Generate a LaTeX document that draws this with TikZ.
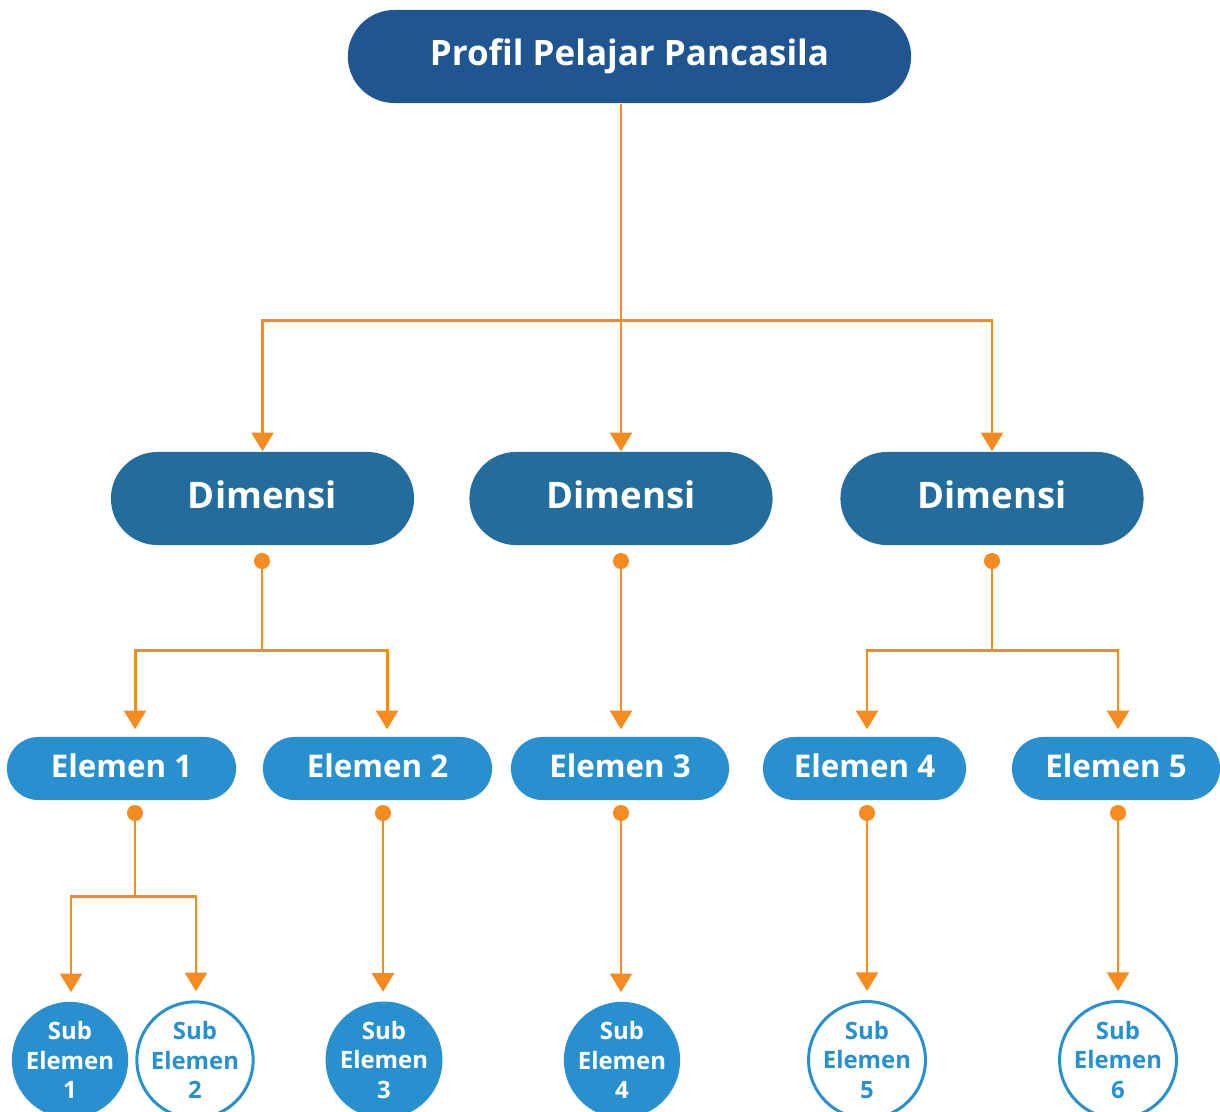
\documentclass[tikz,border=0pt]{standalone}
\usepackage{fontspec}
\setmainfont{Open Sans}
\usetikzlibrary{arrows.meta}
\definecolor{topblue}{HTML}{1F5591}
\definecolor{dimblue}{HTML}{236C9E}
\definecolor{elblue}{HTML}{2990CF}
\definecolor{lineorange}{HTML}{F68B1F}
\tikzset{
  pill/.style={rounded corners=#1, text=white, font=\bfseries, inner sep=0pt},
  link/.style={lineorange, line width=0.85pt},
  arr/.style={link, -{Triangle[width=6.2pt,length=5.3pt]}},
  dot/.style={fill=lineorange},
  subfull/.style={circle, fill=elblue, text=white, minimum size=1.16cm, inner sep=0pt,
    align=center, font=\fontsize{6.8}{8.3}\selectfont\bfseries},
  subopen/.style={subfull, fill=white, draw=elblue, line width=0.85pt, text=elblue}
}
\begin{document}
\begin{tikzpicture}[x=0.01cm,y=-0.01cm]
    \useasboundingbox (0,0) rectangle (1220,1111);
    %top box
    \node [pill=0.465cm, fill=topblue, minimum width=5.63cm, minimum height=0.93cm,
      font=\fontsize{9.95}{12}\selectfont\bfseries] (top) at (629.5,56.5) {Profil Pelajar Pancasila};
    %dimensi
    \node [pill=0.465cm, fill=dimblue, minimum width=3.03cm, minimum height=0.93cm,
      text height=5.6pt, text depth=0pt,
      font=\fontsize{10.4}{12}\selectfont\bfseries] (dim1) at (262.5,498.5) {Dimensi};
    \node [pill=0.465cm, fill=dimblue, minimum width=3.03cm, minimum height=0.93cm,
      text height=5.6pt, text depth=0pt,
      font=\fontsize{10.4}{12}\selectfont\bfseries] (dim2) at (621,498.5) {Dimensi};
    \node [pill=0.465cm, fill=dimblue, minimum width=3.03cm, minimum height=0.93cm,
      text height=5.6pt, text depth=0pt,
      font=\fontsize{10.4}{12}\selectfont\bfseries] (dim3) at (992,498.5) {Dimensi};
    %elemen
    \foreach \n/\x/\w in {1/121.5/2.29, 2/377.5/2.29, 3/620/2.18, 4/864.5/2.03, 5/1116/2.08}
      \node [pill=0.315cm, fill=elblue, minimum width=\w cm, minimum height=0.63cm,
        text height=5.3pt, text depth=0pt,
        font=\fontsize{8.9}{12}\selectfont\bfseries] (el\n) at (\x,768.5) {Elemen \n};
    %sub elemen
    \node [subfull] (sub1) at (70,1060) {Sub\\Elemen\\1};
    \node [subopen] (sub2) at (195,1060) {Sub\\Elemen\\2};
    \node [subfull] (sub3) at (384,1060) {Sub\\Elemen\\3};
    \node [subfull] (sub4) at (622,1060) {Sub\\Elemen\\4};
    \node [subopen] (sub5) at (867,1060) {Sub\\Elemen\\5};
    \node [subopen] (sub6) at (1118,1060) {Sub\\Elemen\\6};

    %branch points
    \coordinate (hub) at (621,320);
    \coordinate (d1) at (262,561);
    \coordinate (d2) at (621,561);
    \coordinate (d3) at (992,561);
    \coordinate (b1) at (262,650);
    \coordinate (b3) at (992,650);
    \coordinate (e1) at (135,813);
    \coordinate (e2) at (383,813);
    \coordinate (e3) at (621,813);
    \coordinate (e4) at (867,813);
    \coordinate (e5) at (1118,813);
    \coordinate (f1) at (135,896);

    %top to dimensi
    \draw [link] (top.south -| hub) -- (hub);
    \draw [arr] (hub) -| (dim1.north);
    \draw [arr] (hub) -- (dim2.north);
    \draw [arr] (hub) -| (dim3.north);
    %dimensi to elemen
    \foreach \c in {d1,d2,d3,e1,e2,e3,e4,e5}
      \fill [dot] (\c) circle (0.08cm);
    \draw [link] (d1) -- (b1);
    \draw [arr, shorten >=0.07cm] (b1) -| ([xshift=0.135cm]el1.north);
    \draw [arr, shorten >=0.07cm] (b1) -| ([xshift=0.095cm]el2.north);
    \draw [arr, shorten >=0.07cm] (d2) -- ([xshift=0.01cm]el3.north);
    \draw [link] (d3) -- (b3);
    \draw [arr, shorten >=0.07cm] (b3) -| ([xshift=0.025cm]el4.north);
    \draw [arr, shorten >=0.07cm] (b3) -| ([xshift=0.02cm]el5.north);
    %elemen to sub elemen
    \draw [link] (e1) -- (f1);
    \draw [arr, shorten >=0.09cm] (f1) -| ([xshift=0.01cm]sub1.north);
    \draw [arr, shorten >=0.09cm] (f1) -| ([xshift=0.01cm]sub2.north);
    \draw [arr, shorten >=0.09cm] (e2) -- (sub3.north -| e2);
    \draw [arr, shorten >=0.09cm] (e3) -- (sub4.north -| e3);
    \draw [arr, shorten >=0.09cm] (e4) -- (sub5.north);
    \draw [arr, shorten >=0.09cm] (e5) -- (sub6.north);
\end{tikzpicture}
\end{document}
